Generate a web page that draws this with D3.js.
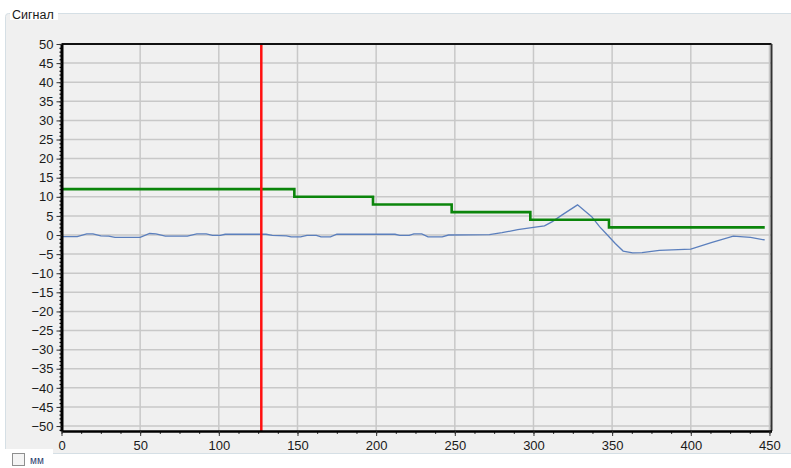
<!DOCTYPE html>
<html>
<head>
<meta charset="utf-8">
<script src="https://cdn.jsdelivr.net/npm/d3@7"></script>
<style>
    body { margin: 0; background: #ffffff; }
    text { font-family: "Liberation Sans", Arial, sans-serif; fill: #1a1a1a; }
</style>
</head>
<body>
<script>
// Data
//= ================================
var stepX = [0, 148, 198, 248, 298, 348, 447];
var stepY = [12, 10, 8, 6, 4, 2, 2];

var signalX = [0, 10, 16, 20, 25, 30, 34, 50, 56, 60, 66, 80, 86, 92, 96, 101, 104, 130, 134, 143,
    146, 152, 156, 162, 165, 171, 175, 212, 215, 221, 224, 229, 233, 242, 246, 272, 280, 290, 300,
    307, 312, 318, 328, 337, 342, 347, 352, 357, 363, 369, 380, 400, 413, 427, 438, 447];
var signalY = [-0.4, -0.4, 0.3, 0.3, -0.2, -0.3, -0.6, -0.6, 0.4, 0.3, -0.3, -0.3, 0.3, 0.3, -0.1, -0.1, 0.2, 0.2, -0.1, -0.2,
    -0.5, -0.5, -0.1, -0.1, -0.5, -0.5, 0.2, 0.2, -0.1, -0.1, 0.3, 0.3, -0.5, -0.5, 0, 0.1, 0.6, 1.4, 2.0,
    2.4, 3.5, 5.2, 7.9, 4.8, 2.2, 0, -2.2, -4.2, -4.7, -4.6, -4.0, -3.7, -2.0, -0.3, -0.6, -1.3];

var markerX = 127;

var xTicks = d3.range(0, 451, 50);
var yTicks = d3.range(-50, 51, 5);

// Step 1: Set up our chart
//= ================================
var svgWidth = 791;
var svgHeight = 468;

var plot = { left: 61.5, right: 771.5, top: 44, bottom: 431 };

var svg = d3.select("body")
    .append("svg")
    .attr("width", svgWidth)
    .attr("height", svgHeight);

// group box "Сигнал"
svg.append("rect")
    .attr("x", 5.5).attr("y", 13.5)
    .attr("width", 800).attr("height", 440)
    .attr("rx", 3)
    .attr("fill", "#f0f0f0")
    .attr("stroke", "#d5dfe5");

svg.append("rect")
    .attr("x", 10).attr("y", 6)
    .attr("width", 48).attr("height", 14)
    .attr("fill", "#ffffff");

svg.append("text")
    .attr("x", 12).attr("y", 19)
    .style("font-size", "12.5px")
    .text("Сигнал");

/**********************************************/
// scales
var xScale = d3.scaleLinear()
    .domain([0, 451.3])
    .range([plot.left, plot.right]);

var yScale = d3.scaleLinear()
    .domain([-51.3, 50])
    .range([plot.bottom, plot.top]);

/**********************************************/
// grid
svg.append("g")
    .selectAll("line")
    .data(xTicks.filter(d => d > 0))
    .enter()
    .append("line")
    .attr("x1", d => xScale(d)).attr("x2", d => xScale(d))
    .attr("y1", plot.top).attr("y2", plot.bottom)
    .attr("stroke", "#c8c8c8")
    .attr("stroke-width", 1.5);

svg.append("g")
    .selectAll("line")
    .data(yTicks.filter(d => d < 50))
    .enter()
    .append("line")
    .attr("x1", plot.left).attr("x2", plot.right)
    .attr("y1", d => yScale(d)).attr("y2", d => yScale(d))
    .attr("stroke", "#c8c8c8")
    .attr("stroke-width", 1.5);

/**********************************************/
// series
var stepData = stepX.map((x, i) => ({ x: x, y: stepY[i] }));
var signalData = signalX.map((x, i) => ({ x: x, y: signalY[i] }));

var signalLine = d3.line()
    .x(d => xScale(d.x))
    .y(d => yScale(d.y));

svg.append("path")
    .attr("d", signalLine(signalData))
    .attr("fill", "none")
    .attr("stroke", "#5b7fbd")
    .attr("stroke-width", 1.3);

var stepLine = d3.line()
    .curve(d3.curveStepAfter)
    .x(d => xScale(d.x))
    .y(d => yScale(d.y));

svg.append("path")
    .attr("d", stepLine(stepData))
    .attr("fill", "none")
    .attr("stroke", "#0b850b")
    .attr("stroke-width", 2.6);

svg.append("line")
    .attr("x1", xScale(markerX)).attr("x2", xScale(markerX))
    .attr("y1", plot.top).attr("y2", plot.bottom)
    .attr("stroke", "#ff1010")
    .attr("stroke-width", 2.5);

/**********************************************/
// frame
svg.append("line")
    .attr("x1", plot.left).attr("x2", plot.right)
    .attr("y1", plot.top).attr("y2", plot.top)
    .attr("stroke", "#111").attr("stroke-width", 2);

svg.append("line")
    .attr("x1", plot.right).attr("x2", plot.right)
    .attr("y1", plot.top).attr("y2", plot.bottom)
    .attr("stroke", "#333").attr("stroke-width", 2);

/**********************************************/
// axes
var leftAxis = d3.axisLeft(yScale)
    .tickValues(yTicks)
    .tickSize(5)
    .tickSizeOuter(0)
    .tickPadding(3);

var minorLeft = d3.axisLeft(yScale)
    .tickValues(d3.range(-51, 51, 1))
    .tickSize(2)
    .tickSizeOuter(0)
    .tickFormat("");

var bottomAxis = d3.axisBottom(xScale)
    .tickValues(xTicks)
    .tickSize(5)
    .tickSizeOuter(0)
    .tickPadding(5);

var minorBottom = d3.axisBottom(xScale)
    .tickValues(d3.range(0, 451, 12.5))
    .tickSize(3)
    .tickSizeOuter(0)
    .tickFormat("");

var gl = svg.append("g")
    .attr("transform", `translate(${plot.left}, 0)`)
    .call(minorLeft);
gl.selectAll(".tick line").attr("stroke", "#000").attr("stroke-width", 1.2);

var gy = svg.append("g")
    .attr("transform", `translate(${plot.left}, 0)`)
    .call(leftAxis);

var gb = svg.append("g")
    .attr("transform", `translate(0, ${plot.bottom})`)
    .call(minorBottom);
gb.selectAll(".tick line").attr("stroke", "#333");

var gx = svg.append("g")
    .attr("transform", `translate(0, ${plot.bottom})`)
    .call(bottomAxis);

[gy, gx].forEach(function (g) {
    g.selectAll("text")
        .style("font-family", "Liberation Sans, Arial, sans-serif")
        .style("font-size", "13px")
        .attr("fill", "#1a1a1a");
    g.selectAll(".tick line").attr("stroke", "#333");
});

gy.select(".domain").attr("stroke", "#000").attr("stroke-width", 3);
gx.select(".domain").attr("stroke", "#000").attr("stroke-width", 2.5);

/**********************************************/
// "мм" checkbox
svg.append("rect")
    .attr("x", 0).attr("y", 449)
    .attr("width", 53).attr("height", 19)
    .attr("fill", "#ffffff");

svg.append("rect")
    .attr("x", 12.5).attr("y", 453.5)
    .attr("width", 12).attr("height", 12)
    .attr("fill", "#f4f4f4")
    .attr("stroke", "#8e8f8f");

svg.append("text")
    .attr("x", 30).attr("y", 464)
    .style("font-size", "10px")
    .style("fill", "#2c3e6e")
    .text("мм");
</script>
</body>
</html>
